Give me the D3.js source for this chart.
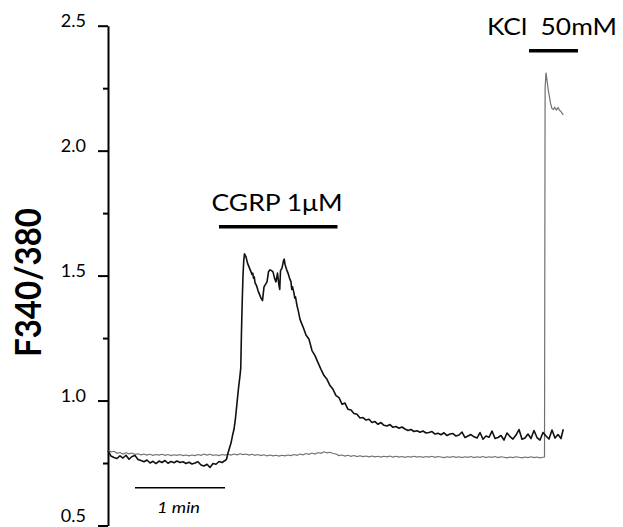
<!DOCTYPE html>
<html>
<head>
<meta charset="utf-8">
<script src="https://cdn.jsdelivr.net/npm/d3@7"></script>
<style>
html,body{margin:0;padding:0;background:#fff;}
svg{display:block;}
</style>
</head>
<body>
<svg id="chart" width="623" height="527"></svg>
<script>
// ---- data ----
const yMajorTicks = [0.5, 1.0, 1.5, 2.0, 2.5];
const yMinorTicks = [0.75, 1.25, 1.75, 2.25];
const yTickLabels = ["0.5", "1.0", "1.5", "2.0", "2.5"];
const yLabel = "F340/380";

// CGRP-responding cell (time in s, ratio)
const cgrpTime = [0,2,4,6,8,10,12,14,16,18,20,22,24,26,28,30,32,34,36,38,40,42,44,46,48,50,52,54,56,58,60,62,64,66,68,70,72,74,76,78,
  79,80,81,82,83,84,85,86,87,88,
  88.5,89,89.5,90,90.5,91,
  92,93,94,95,96,96.5,97,97.5,98,99,100,101,102,103,104,105,106,107,108,109,110,111,112,113,114,114.5,115,116,117,117.5,118,119,120,121,122,122.5,123,124,124.5,125,126,127,128,129,130,
  132,134,136,138,140,142,144,146,148,150,152,154,156,158,
  160,162,164,166,168,170,172,174,176,178,180,182,184,186,188,190,192,194,196,198,
  200,202,204,206,208,210,212,214,216,218,220,222,224,226,228,230,232,234,236,238,240,242,244,246,248,250,252,254,256,258,260,262,264,266,268,270,272,274,276,278,280,282,284,286,288,290,292,294,296,298,300,302,303.5];
const cgrpRatio = [0.800,0.778,0.772,0.768,0.779,0.770,0.781,0.765,0.776,0.780,0.764,0.760,0.755,0.762,0.750,0.757,0.748,0.758,0.752,0.760,0.749,0.756,0.751,0.758,0.752,0.755,0.748,0.753,0.746,0.750,0.755,0.742,0.738,0.745,0.732,0.748,0.745,0.756,0.752,0.760,
  0.765,0.790,0.810,0.830,0.860,0.885,0.930,0.990,1.050,1.100,
  1.130,1.280,1.400,1.500,1.560,1.587,
  1.575,1.550,1.535,1.520,1.505,1.510,1.490,1.495,1.472,1.460,1.440,1.425,1.410,1.400,1.455,1.465,1.475,1.515,1.523,1.520,1.515,1.490,1.475,1.510,1.460,1.445,1.520,1.530,1.560,1.566,1.545,1.525,1.510,1.490,1.475,1.445,1.455,1.430,1.410,1.415,1.380,1.355,1.325,1.310,1.295,
  1.262,1.245,1.200,1.180,1.152,1.125,1.100,1.085,1.060,1.045,1.020,1.012,0.985,0.990,
  0.965,0.962,0.948,0.945,0.930,0.932,0.922,0.925,0.912,0.916,0.905,0.912,0.901,0.898,0.904,0.893,0.896,0.889,0.894,0.886,
  0.880,0.884,0.876,0.879,0.873,0.878,0.870,0.872,0.876,0.866,0.869,0.863,0.871,0.860,0.866,0.868,0.858,0.862,0.874,0.852,0.858,0.864,0.855,0.850,0.872,0.845,0.858,0.853,0.878,0.848,0.852,0.860,0.842,0.870,0.856,0.846,0.862,0.884,0.845,0.850,0.866,0.848,0.880,0.852,0.842,0.872,0.858,0.846,0.882,0.850,0.864,0.848,0.885];

// KCl-only cell (time in s, ratio)
const kclTime = [0,2,4,6,8,10,12,14,16,18,20,22,24,26,28,30,32,34,36,38,40,42,44,46,48,50,52,54,56,58,60,62,64,66,68,70,72,74,76,78,80,82,84,86,88,90,92,94,96,98,100,102,104,106,108,110,112,114,116,118,120,122,124,126,128,130,132,134,136,138,140,142,144,146,148,150,152,154,156,158,160,162,164,166,168,170,172,174,176,178,180,182,184,186,188,190,192,194,196,198,200,202,204,206,208,210,212,214,216,218,220,222,224,226,228,230,232,234,236,238,240,242,244,246,248,250,252,254,256,258,260,262,264,266,268,270,272,274,276,278,280,282,284,286,288,290,291,291.4,292,292.7,293.5,295,296,297,297.7,299,300,301,302,303.5];
const kclRatio = [0.800,0.795,0.797,0.789,0.792,0.786,0.791,0.787,0.790,0.785,0.787,0.783,0.786,0.782,0.785,0.781,0.784,0.782,0.785,0.781,0.784,0.780,0.783,0.781,0.784,0.780,0.782,0.779,0.782,0.780,0.784,0.781,0.786,0.782,0.785,0.781,0.783,0.780,0.784,0.782,0.785,0.782,0.786,0.783,0.787,0.784,0.786,0.782,0.785,0.781,0.784,0.780,0.783,0.779,0.782,0.779,0.781,0.778,0.781,0.779,0.782,0.780,0.784,0.781,0.786,0.783,0.788,0.785,0.790,0.786,0.792,0.789,0.795,0.791,0.793,0.788,0.786,0.780,0.782,0.778,0.781,0.777,0.780,0.776,0.779,0.776,0.778,0.775,0.778,0.775,0.777,0.774,0.777,0.775,0.778,0.774,0.777,0.774,0.776,0.773,0.776,0.774,0.777,0.774,0.776,0.773,0.776,0.774,0.777,0.773,0.776,0.774,0.772,0.775,0.773,0.776,0.773,0.775,0.772,0.775,0.773,0.776,0.772,0.775,0.773,0.776,0.772,0.775,0.773,0.776,0.772,0.775,0.773,0.771,0.774,0.772,0.775,0.773,0.771,0.774,0.772,0.775,0.772,0.774,0.771,0.773,0.774,2.250,2.312,2.280,2.243,2.190,2.168,2.165,2.173,2.163,2.172,2.162,2.156,2.143];

// Application bars (s)
const cgrpBar = [74, 153];
const kclBar = [280.7, 313.3];
const scaleBar = [18, 78];
const cgrpText = "CGRP 1\u03BCM";
const kclText = "KCl  50mM";
const scaleText = "1 min";

// ---- drawing ----
const svg = d3.select("#chart");
const x = d3.scaleLinear().domain([0, 304]).range([108, 564]);
const y = d3.scaleLinear().domain([0.5, 2.5]).range([525.5, 25.7]);

// y axis
const axMajor = d3.axisLeft(y).tickValues(yMajorTicks).tickSize(10).tickSizeOuter(0)
  .tickFormat((d, i) => yTickLabels[i]).tickPadding(12);
const gA = svg.append("g").attr("transform", "translate(108,0)").call(axMajor);
gA.select(".domain").attr("stroke", "#000").attr("stroke-width", 2);
gA.selectAll(".tick line").attr("stroke", "#000").attr("stroke-width", 2);
gA.selectAll(".tick text").attr("font-family", "Lato, 'Open Sans', sans-serif")
  .attr("font-size", 18).attr("fill", "#000")
  .attr("dy", d => d === yMajorTicks[0] ? "-0.2em" : "0.03em");

const axMinor = d3.axisLeft(y).tickValues(yMinorTicks).tickSize(5).tickSizeOuter(0).tickFormat("");
const gB = svg.append("g").attr("transform", "translate(108,0)").call(axMinor);
gB.select(".domain").remove();
gB.selectAll(".tick line").attr("stroke", "#000").attr("stroke-width", 2);

// y label
svg.append("text")
  .attr("transform", "translate(41,282.5) rotate(-90)")
  .attr("text-anchor", "middle")
  .attr("font-family", "Lato, 'Open Sans', sans-serif")
  .attr("font-weight", "bold").attr("font-size", 36)
  .attr("textLength", 149).attr("lengthAdjust", "spacingAndGlyphs")
  .text(yLabel);

// traces
const line = d3.line().x(d => x(d[0])).y(d => y(d[1]));
svg.append("path")
  .datum(kclTime.map((t, i) => [t, kclRatio[i]]))
  .attr("d", line).attr("fill", "none").attr("stroke", "#707070").attr("stroke-width", 1.2);
svg.append("path")
  .datum(cgrpTime.map((t, i) => [t, cgrpRatio[i]]))
  .attr("d", line).attr("fill", "none").attr("stroke", "#111").attr("stroke-width", 1.6)
  .attr("stroke-linejoin", "round");

// bars
svg.append("line").attr("x1", x(cgrpBar[0])).attr("x2", x(cgrpBar[1]))
  .attr("y1", 226.7).attr("y2", 226.7).attr("stroke", "#000").attr("stroke-width", 3.5);
svg.append("line").attr("x1", x(kclBar[0])).attr("x2", x(kclBar[1]))
  .attr("y1", 50.7).attr("y2", 50.7).attr("stroke", "#000").attr("stroke-width", 3.5);
svg.append("line").attr("x1", x(scaleBar[0])).attr("x2", x(scaleBar[1]))
  .attr("y1", 487.7).attr("y2", 487.7).attr("stroke", "#000").attr("stroke-width", 1.5);

// labels
svg.append("text").attr("x", 211.5).attr("y", 210.5)
  .attr("font-family", "Lato, 'Open Sans', sans-serif").attr("font-size", 23)
  .attr("textLength", 131).attr("lengthAdjust", "spacingAndGlyphs")
  .text(cgrpText);
svg.append("text").attr("x", 487).attr("y", 35)
  .attr("font-family", "Lato, 'Open Sans', sans-serif").attr("font-size", 24)
  .attr("textLength", 130).attr("lengthAdjust", "spacingAndGlyphs")
  .attr("xml:space", "preserve").style("white-space", "pre")
  .text(kclText);
svg.append("text").attr("x", 157).attr("y", 512.5)
  .attr("font-family", "Lato, 'Open Sans', sans-serif").attr("font-style", "italic").attr("font-size", 16)
  .attr("textLength", 43).attr("lengthAdjust", "spacingAndGlyphs")
  .text(scaleText);
</script>
</body>
</html>
